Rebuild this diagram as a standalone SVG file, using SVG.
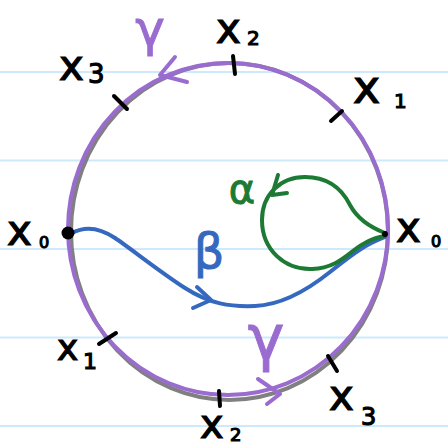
<svg xmlns="http://www.w3.org/2000/svg" width="448" height="447" viewBox="0 0 448 447">
<style>
.rule{stroke:#cde9fb;stroke-width:2}
.ink{fill:none;stroke-linecap:round;stroke-linejoin:round}
.tick{stroke:#000;stroke-width:4;stroke-linecap:round}
.lab{font-family:"DejaVu Sans",sans-serif;fill:#000;stroke:#000;stroke-width:1.2}
.purple{stroke:#9a6ccf}
.blue{stroke:#3569c0}
.green{stroke:#1d7a34}
</style>
<rect width="448" height="447" fill="#fff"/>
<g id="paper">
<line class="rule" x1="0" y1="72" x2="448" y2="72"/>
<line class="rule" x1="0" y1="160.5" x2="448" y2="160.5"/>
<line class="rule" x1="0" y1="249" x2="448" y2="249"/>
<line class="rule" x1="0" y1="337.5" x2="448" y2="337.5"/>
<line class="rule" x1="0" y1="426" x2="448" y2="426"/>
</g>
<g id="circle">
<ellipse cx="229.5" cy="231.5" rx="158.5" ry="168.5" fill="none" stroke="#808080" stroke-width="4"/>
<ellipse class="ink purple" cx="228" cy="229" rx="160" ry="166" stroke-width="4"/>
</g>
<g id="connectors">
<path id="beta" class="ink blue" stroke-width="4" d="M72,233 C85,226 100,228 115,238 S160,272 185,288 S230,307 255,306 S305,292 330,272 S365,245 385,237"/>
<polyline class="ink blue" stroke-width="4" points="197,287 211,300 193,308"/>
<path id="alpha" class="ink green" stroke-width="4" d="M385,233 C372,228 358,220 350,205 C340,185 325,177 305,177 C280,177 262,195 262,220 C262,250 285,270 312,269 C340,268 350,250 365,243 C372,239 378,237 385,236"/>
<polyline class="ink green" stroke-width="4" points="278,175 272,195 287,193"/>
<polyline class="ink purple" stroke-width="4" points="175,57 160,75 187,82"/>
<polyline class="ink purple" stroke-width="4" points="258,379 280,394 267,404"/>
</g>
<g id="ticks">
<line class="tick" x1="233" y1="56" x2="235" y2="74"/>
<line class="tick" x1="114" y1="96" x2="127" y2="109"/>
<line class="tick" x1="331" y1="121" x2="342" y2="111"/>
<line class="tick" x1="99" y1="344" x2="116" y2="333"/>
<line class="tick" x1="219" y1="391" x2="220" y2="406"/>
<line class="tick" x1="328" y1="356" x2="337" y2="371"/>
</g>
<g id="x0-left">
<circle cx="68" cy="233" r="6.5" fill="#000"/>
<text class="lab" x="7" y="245" font-size="42">x</text>
<text class="lab" x="39" y="248" font-size="16">0</text>
</g>
<g id="x0-right">
<circle cx="385" cy="234" r="3" fill="#000"/>
<text class="lab" x="396" y="242" font-size="42">x</text>
<text class="lab" x="431" y="247" font-size="16">0</text>
</g>
<g id="x2-top">
<text class="lab" x="216" y="43" font-size="42">x</text>
<text class="lab" x="247" y="45" font-size="20">2</text>
</g>
<g id="x3-top">
<text class="lab" x="59" y="80" font-size="42">x</text>
<text class="lab" x="88" y="83" font-size="26">3</text>
</g>
<g id="x1-top">
<text class="lab" x="353" y="103" font-size="46">x</text>
<text class="lab" x="394" y="108" font-size="20">1</text>
</g>
<g id="x1-bottom">
<text class="lab" x="57" y="360" font-size="36">x</text>
<text class="lab" x="83" y="369" font-size="22">1</text>
</g>
<g id="x2-bottom">
<text class="lab" x="200" y="438" font-size="40">x</text>
<text class="lab" x="230" y="441" font-size="18">2</text>
</g>
<g id="x3-bottom">
<text class="lab" x="329" y="410" font-size="42">x</text>
<text class="lab" x="361" y="425" font-size="24">3</text>
</g>
<g id="greek" font-family="DejaVu Sans,sans-serif" stroke-width="1">
<text x="150" y="46" font-size="50" fill="#9a6ccf" stroke="#9a6ccf" text-anchor="middle">γ</text>
<text x="266" y="359" font-size="62" fill="#9a6ccf" stroke="#9a6ccf" text-anchor="middle">γ</text>
<text x="242" y="203" font-size="40" fill="#1d7a34" stroke="#1d7a34" text-anchor="middle">α</text>
<text x="209" y="268" font-size="48" fill="#3569c0" stroke="#3569c0" text-anchor="middle">β</text>
</g>
</svg>
